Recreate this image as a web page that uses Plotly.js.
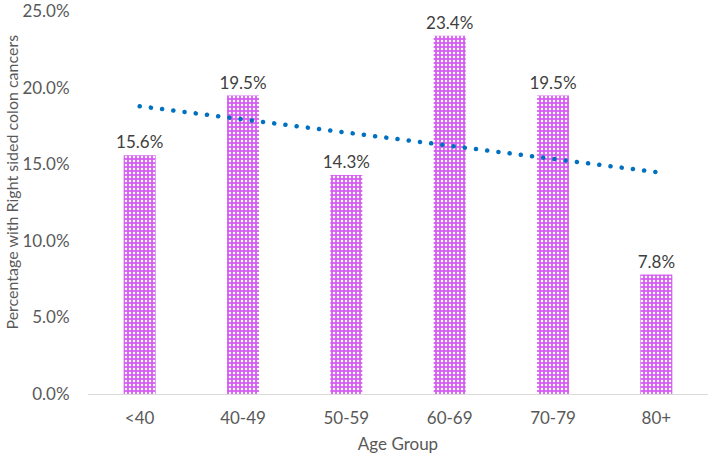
<!DOCTYPE html>
<html>
<head>
<meta charset="utf-8">
<script src="https://cdn.plot.ly/plotly-3.0.1.min.js"></script>
<style>
  html, body { margin: 0; padding: 0; background: #fff; }
  #chart { width: 708px; height: 458px; }
</style>
</head>
<body>
<div id="chart"></div>
<script>
// values
const ageGroups = ['<40', '40-49', '50-59', '60-69', '70-79', '80+'];
const rightSidedPct = [15.6, 19.5, 14.3, 23.4, 19.5, 7.8];
// linear trendline end points, as drawn
const trendX = ['<40', '80+'];
const trendY = [18.8, 14.5];
const yTicks = [0, 5, 10, 15, 20, 25];

const fontFamily = 'Lato, "Open Sans", sans-serif';
const labelFont = {family: fontFamily, size: 17, color: '#595959'};

const bars = {
    x: ageGroups,
    y: rightSidedPct,
    type: 'bar',
    width: 0.31,
    text: rightSidedPct.map((v) => v.toFixed(1) + '%'),
    textposition: 'outside',
    constraintext: 'none',
    textfont: {family: fontFamily, size: 17, color: '#404040'},
    cliponaxis: false,
    marker: {
        color: '#d65cf2',
        pattern: {
            shape: '.',
            fgcolor: '#ffffff',
            bgcolor: '#d65cf2',
            size: 4,
            solidity: 0.3,
        },
    },
    hoverinfo: 'x+y',
};

const trend = {
    x: trendX,
    y: trendY,
    type: 'scatter',
    mode: 'lines',
    line: {color: '#0070c0', width: 4.5, dash: 'dot'},
    hoverinfo: 'skip',
};

const layout = {
    width: 708,
    height: 458,
    margin: {l: 88, r: 0, t: 11, b: 64},
    paper_bgcolor: '#ffffff',
    plot_bgcolor: '#ffffff',
    showlegend: false,
    font: labelFont,
    xaxis: {
        type: 'category',
        showline: true,
        linecolor: '#d9d9d9',
        linewidth: 1,
        ticks: 'outside',
        ticklen: 9,
        tickcolor: 'rgba(0,0,0,0)',
        showgrid: false,
        tickfont: labelFont,
        title: {text: 'Age Group', font: labelFont, standoff: 10},
    },
    yaxis: {
        range: [0, 25.02],
        tickvals: yTicks,
        ticktext: yTicks.map((v) => v.toFixed(1) + '%'),
        ticklabeloverflow: 'allow',
        showgrid: false,
        zeroline: false,
        ticks: 'outside',
        ticklen: 14,
        tickcolor: 'rgba(0,0,0,0)',
        tickfont: labelFont,
    },
    annotations: [{
        text: 'Percentage with Right sided colon cancers',
        xref: 'paper',
        yref: 'paper',
        x: -0.123,
        y: 0.554,
        xanchor: 'center',
        yanchor: 'middle',
        textangle: -90,
        showarrow: false,
        font: {family: fontFamily, size: 16, color: '#595959'},
    }],
};

Plotly.newPlot('chart', [bars, trend], layout, {displayModeBar: false, staticPlot: true}).then((gd) => {
    // round dots for the trendline, like the original
    gd.querySelectorAll('.scatterlayer path.js-line').forEach((p) => {
        p.style.strokeDasharray = '0.1px,11.2px';
        p.style.strokeLinecap = 'round';
    });
});
</script>
</body>
</html>
